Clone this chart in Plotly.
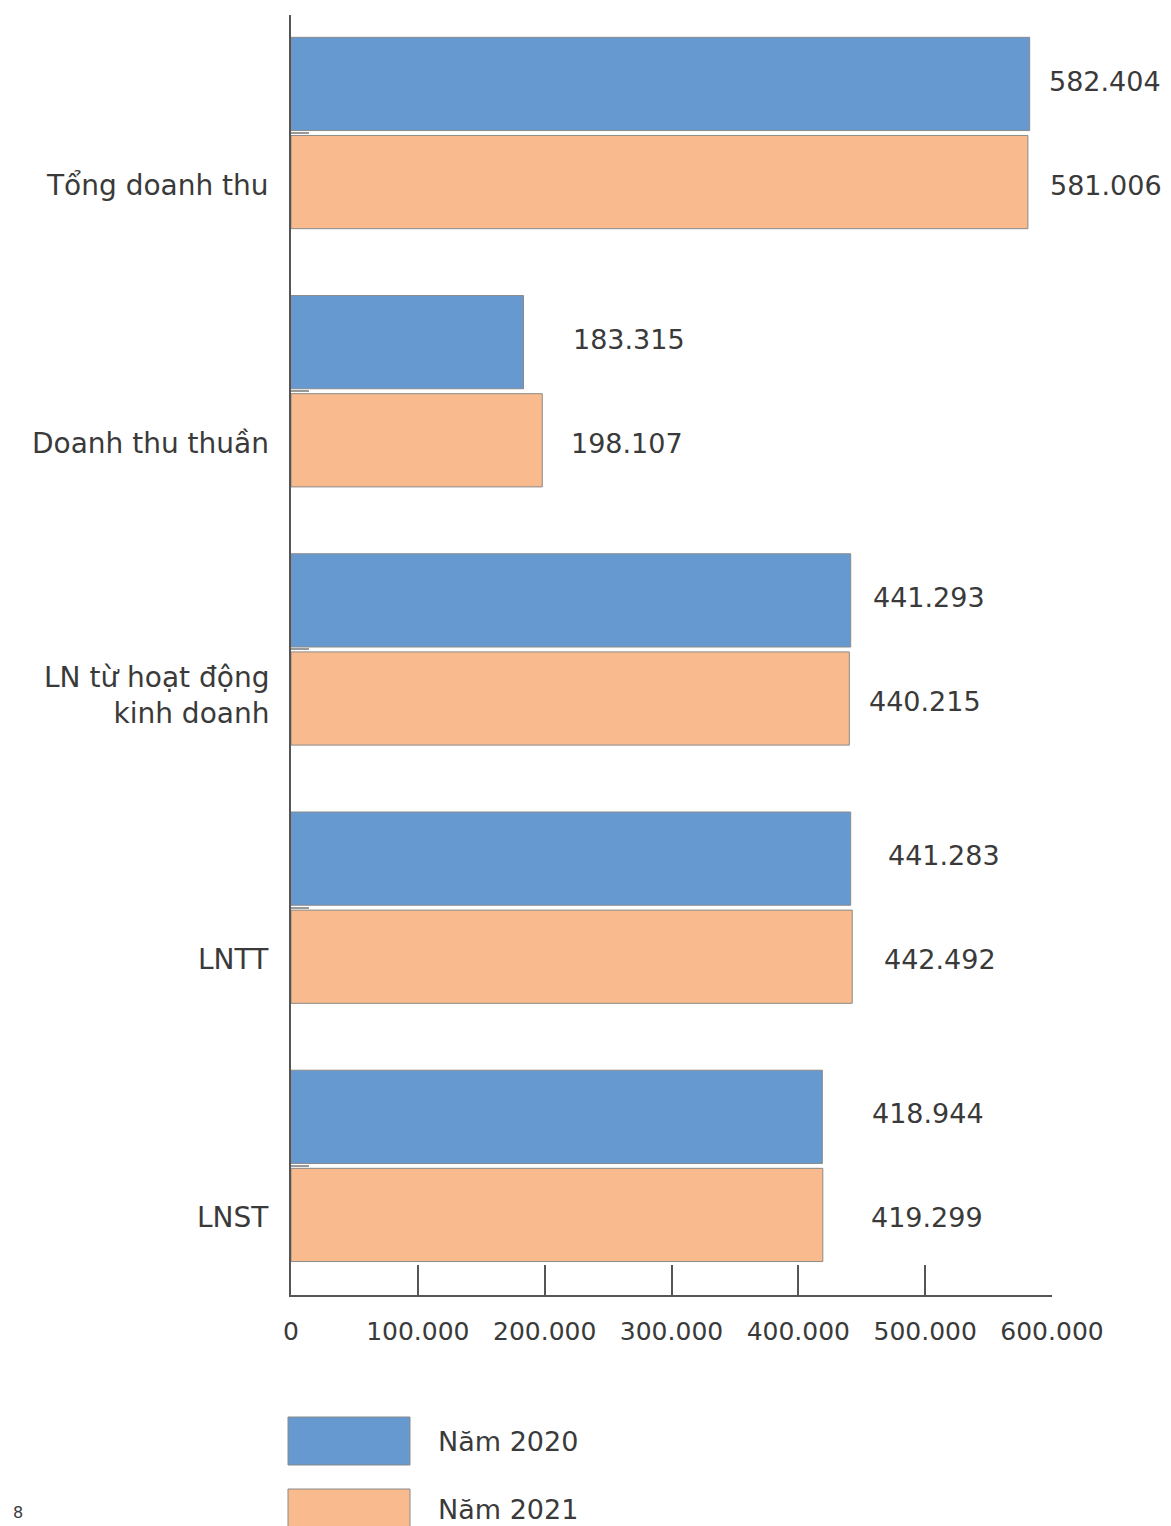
import plotly.graph_objects as go

# ---------------- data ----------------
categories = ["Tổng doanh thu", "Doanh thu thuần", "LN từ hoạt động<br>kinh doanh", "LNTT", "LNST"]
series_names = ["Năm 2020", "Năm 2021"]
values_2020 = [582404, 183315, 441293, 441283, 418944]
values_2021 = [581006, 198107, 440215, 442492, 419299]
x_tick_values = [0, 100000, 200000, 300000, 400000, 500000, 600000]
x_tick_labels = ["0", "100.000", "200.000", "300.000", "400.000", "500.000", "600.000"]
page_number = "8"

# ---------------- style ----------------
OFF = 8  # page body margin
W, H = 1171 - OFF, 1526 - OFF
ML, MT = 291 - OFF, 15 - OFF
MR = W - (1052 - OFF)
MB = H - (1295 - OFF)
PW, PH = W - ML - MR, H - MT - MB
FONT = "DejaVu Sans"
TXT = "#3a3a3a"
C2020 = "#6699CF"
C2021 = "#F9BB8D"
label_shift_2020 = [75, 105, 78, 93, 106]
label_shift_2021 = [78, 85, 76, 88, 104]


def px_x(p):
    return (p - OFF - ML) / PW


def px_y(p):
    return (H - MB - (p - OFF)) / PH


def fmt(v):
    return f"{v:,}".replace(",", ".")


fig = go.Figure()
for name, vals, col in [(series_names[0], values_2020, C2020), (series_names[1], values_2021, C2021)]:
    fig.add_trace(go.Bar(
        y=categories, x=vals, name=name, orientation="h",
        marker=dict(color=col, line=dict(color="#8a8a8a", width=1)),
        showlegend=False, hoverinfo="skip",
    ))

annotations = []
# category labels (aligned with the 2021 bar)
for c in categories:
    annotations.append(dict(
        xref="paper", yref="y", x=0, y=c, xanchor="right", yanchor="middle",
        xshift=-20, yshift=-46 if "<br>" in c else -52, text=c, showarrow=False, align="right",
        font=dict(family=FONT, size=28, color=TXT),
    ))
# value labels
for c, v, s in zip(categories, values_2020, label_shift_2020):
    annotations.append(dict(
        xref="x", yref="y", x=v, y=c, xanchor="center", yanchor="middle",
        xshift=s, yshift=52, text=fmt(v), showarrow=False,
        font=dict(family=FONT, size=27, color=TXT),
    ))
for c, v, s in zip(categories, values_2021, label_shift_2021):
    annotations.append(dict(
        xref="x", yref="y", x=v, y=c, xanchor="center", yanchor="middle",
        xshift=s, yshift=-52, text=fmt(v), showarrow=False,
        font=dict(family=FONT, size=27, color=TXT),
    ))

# manual legend
shapes = []
for i, (name, col) in enumerate([(series_names[0], C2020), (series_names[1], C2021)]):
    top = 1417 + i * 72
    shapes.append(dict(
        type="rect", xref="paper", yref="paper",
        x0=px_x(288), x1=px_x(410), y0=px_y(top), y1=px_y(top + 48),
        fillcolor=col, line=dict(color="#8a8a8a", width=1),
    ))
    annotations.append(dict(
        xref="paper", yref="paper", x=px_x(436), y=px_y(top + 24 - (4 if i else 0)),
        xanchor="left", yanchor="middle", text=name, showarrow=False,
        font=dict(family=FONT, size=27, color=TXT),
    ))

annotations.append(dict(
    xref="paper", yref="paper", x=px_x(18), y=px_y(1524),
    xanchor="center", yanchor="bottom", text=page_number, showarrow=False,
    font=dict(family=FONT, size=16, color=TXT),
))

fig.update_layout(
    width=W, height=H,
    margin=dict(l=ML, r=MR, t=MT, b=MB, autoexpand=False),
    paper_bgcolor="white", plot_bgcolor="white",
    barmode="group", bargap=0.24, bargroupgap=0.05,
    font=dict(family=FONT, size=26, color=TXT),
    annotations=annotations, shapes=shapes,
)
fig.update_xaxes(
    range=[0, 600000], tickvals=x_tick_values, ticktext=x_tick_labels,
    showgrid=False, zeroline=False, showline=True, linecolor="#555555", linewidth=2,
    ticks="inside", ticklen=30, tickwidth=1.5, tickcolor="#555555",
    tickfont=dict(family=FONT, size=25, color=TXT), ticklabelstandoff=13,
)
fig.update_yaxes(
    type="category", categoryorder="array", categoryarray=categories,
    range=[4.5, -0.457], showgrid=False, zeroline=False,
    showline=True, linecolor="#555555", linewidth=2,
    ticks="inside", ticklen=18, tickwidth=1.5, tickcolor="#999999",
    showticklabels=False,
)

fig.write_html("out.html")
